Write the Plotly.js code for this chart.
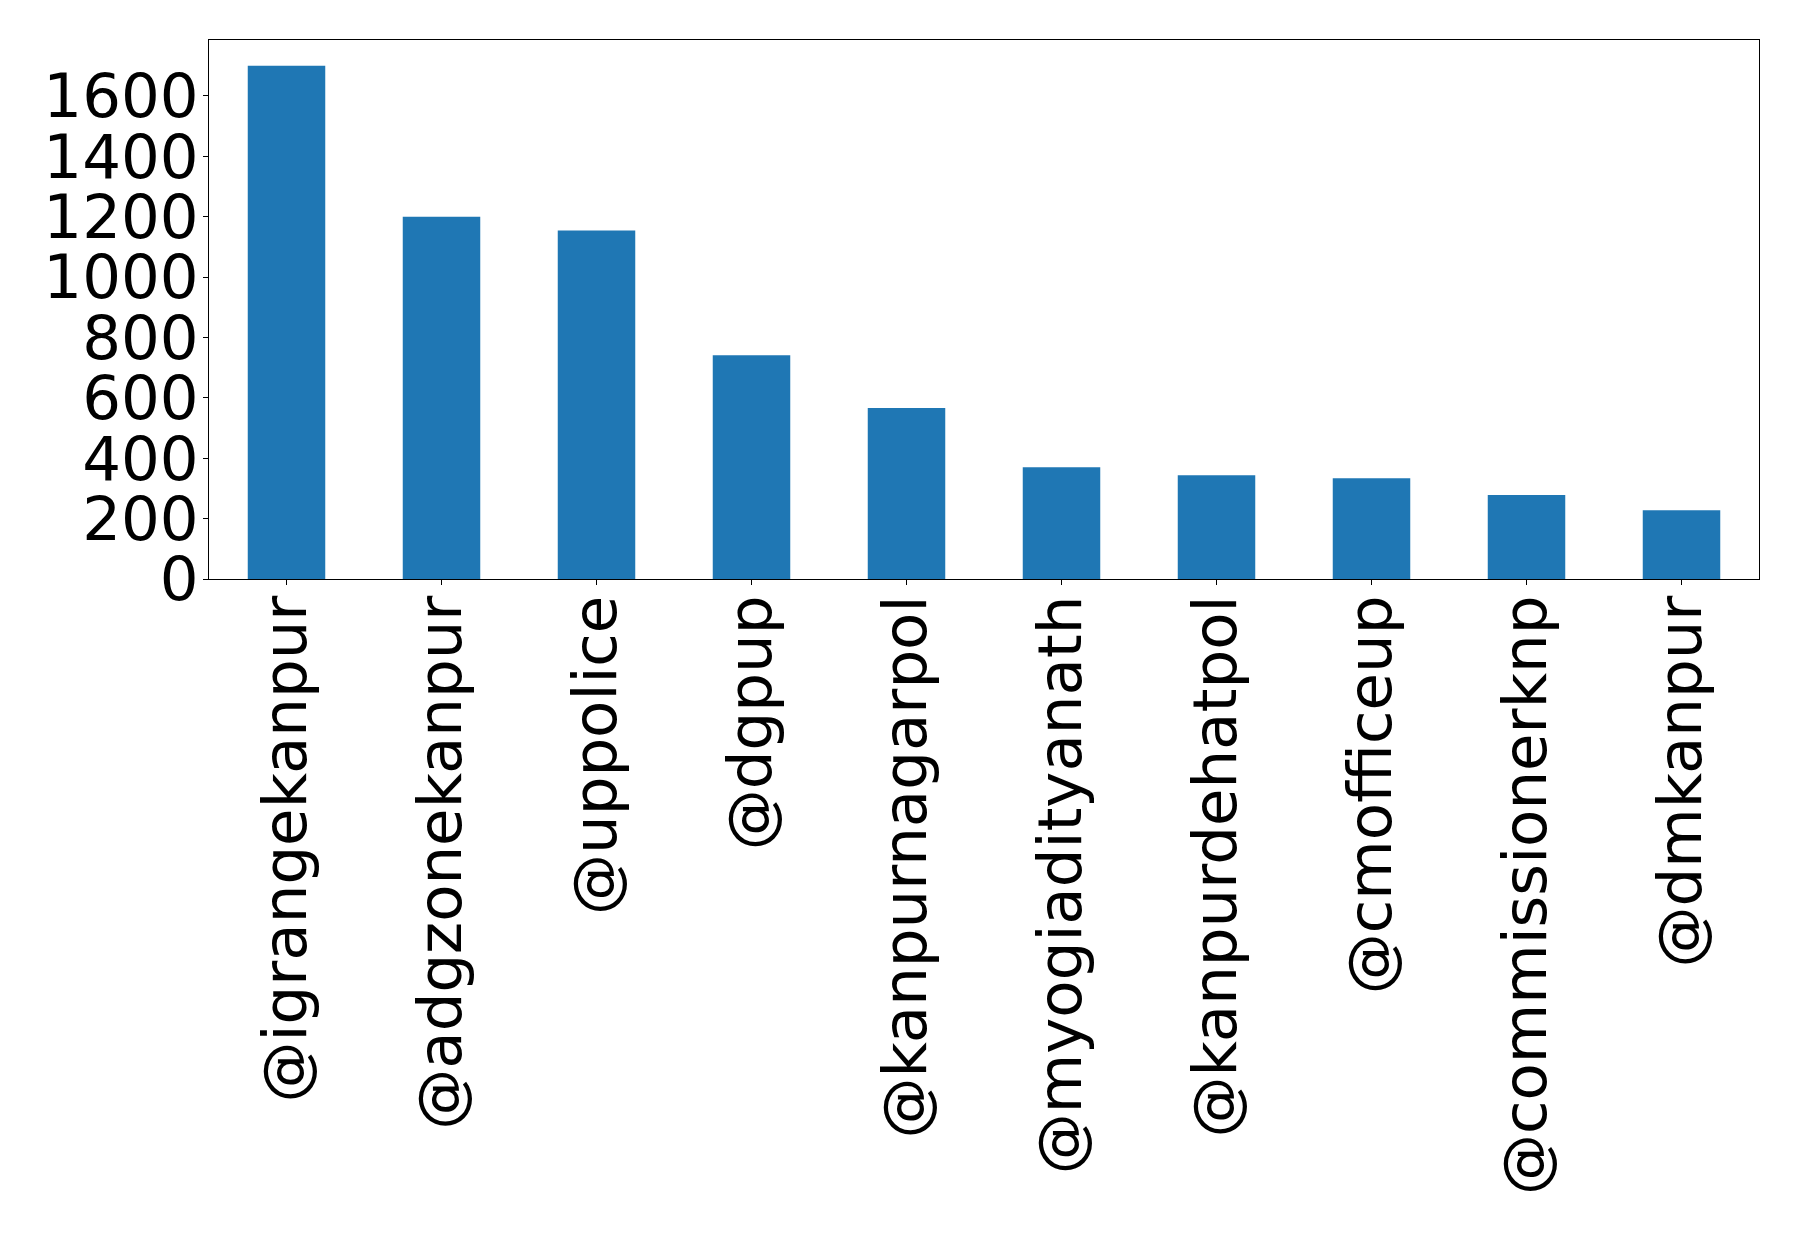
<!DOCTYPE html>
<html>
<head>
<meta charset="utf-8">
<script src="https://cdn.plot.ly/plotly-3.0.1.min.js"></script>
<style>html,body{margin:0;padding:0;background:#fff;}#chart{width:1798px;height:1242px;}</style>
</head>
<body>
<div id="chart"></div>
<script>
const accounts = ["@igrangekanpur","@adgzonekanpur","@uppolice","@dgpup","@kanpurnagarpol","@myogiadityanath","@kanpurdehatpol","@cmofficeup","@commissionerknp","@dmkanpur"];
const counts = [1700, 1200, 1154, 741, 566, 370, 344, 334, 278, 228];
const yTicks = [0,200,400,600,800,1000,1200,1400,1600];

const trace = {
  type: 'bar',
  x: accounts,
  y: counts,
  width: 0.5,
  marker: {color: '#1f77b4', line: {width: 0}},
  hoverinfo: 'x+y'
};
const layout = {
  width: 1798, height: 1242,
  margin: {l: 209, r: 39, t: 40, b: 663, pad: 0},
  paper_bgcolor: '#fff', plot_bgcolor: '#fff',
  font: {family: 'DejaVu Sans', color: '#000', size: 61},
  showlegend: false,
  bargap: 0.5,
  xaxis: {
    type: 'category', range: [-0.5, 9.5],
    showline: true, linecolor: '#000', linewidth: 1.2, mirror: true,
    showgrid: false, zeroline: false,
    ticks: 'outside', ticklen: 5, tickwidth: 1, tickcolor: '#000',
    ticklabelstandoff: -14,
    tickangle: -90, tickfont: {family: 'DejaVu Sans', size: 61, color: '#000'}
  },
  yaxis: {
    range: [0, 1785], tickvals: yTicks, ticktext: yTicks.map(String),
    showline: true, linecolor: '#000', linewidth: 1.2, mirror: true,
    showgrid: false, zeroline: false,
    ticks: 'outside', ticklen: 5, tickwidth: 1, tickcolor: '#000',
    ticklabelstandoff: -8,
    tickfont: {family: 'DejaVu Sans', size: 61, color: '#000'}
  }
};
Plotly.newPlot('chart', [trace], layout, {staticPlot: true, displayModeBar: false});
</script>
</body>
</html>
